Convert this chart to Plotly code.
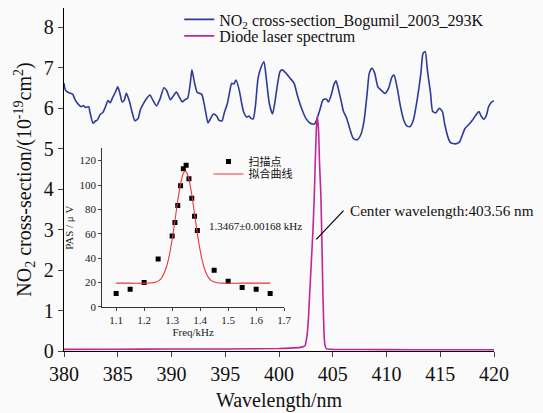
import plotly.graph_objects as go

# ---- Main panel: NO2 cross-section (Bogumil 2003, 293K), units 1e-19 cm^2
no2_wl = [380.0, 380.1, 380.26, 380.58, 380.8, 381.04, 381.3, 381.6, 381.8, 382.0, 382.3, 382.4,
          382.7, 382.9, 383.1, 383.4, 383.6, 383.8, 384.1, 384.3, 384.5, 384.8, 385.0, 385.2,
          385.4, 385.6, 385.8, 386.1, 386.3, 386.6, 386.9, 387.1, 387.4, 387.7, 388.0, 388.25,
          388.6, 388.9, 389.3, 389.55, 389.9, 390.15, 390.45, 390.7, 391.0, 391.3, 391.5, 391.75,
          391.9, 392.15, 392.4, 392.8, 393.0, 393.2, 393.4, 393.6, 393.9, 394.2, 394.4, 394.7,
          394.9, 395.2, 395.4, 395.6, 395.8, 396.0, 396.3, 396.5, 396.7, 397.0, 397.2, 397.4,
          397.6, 397.8, 398.05, 398.3, 398.6, 398.8, 399.1, 399.4, 399.6, 399.9, 400.1, 400.3,
          400.65, 401.05, 401.4, 401.7, 402.1, 402.5, 402.9, 403.3, 403.5, 403.8, 404.1, 404.4,
          404.6, 404.9, 405.1, 405.3, 405.5, 405.8, 406.0, 406.3, 406.6, 406.9, 407.25, 407.6,
          407.9, 408.2, 408.4, 408.65, 408.9, 409.2, 409.5, 409.85, 410.2, 410.5, 410.7, 411.0,
          411.3, 411.6, 411.9, 412.2, 412.5, 412.85, 413.2, 413.4, 413.6, 413.8, 414.1, 414.3,
          414.6, 414.9, 415.2, 415.4, 415.7, 415.95, 416.4, 416.8, 417.0, 417.3, 417.7, 418.0,
          418.3, 418.6, 418.8, 419.05, 419.3, 419.5, 419.8, 420.0]
no2_xs = [6.62, 6.47, 6.41, 6.37, 6.35, 6.21, 6.11, 6.04, 6.07, 6.02, 6.04, 5.92,
          5.63, 5.68, 5.71, 5.86, 5.89, 6.00, 6.19, 6.14, 6.25, 6.41, 6.53, 6.37,
          6.16, 6.20, 6.37, 6.16, 5.94, 5.69, 5.75, 5.96, 6.12, 6.25, 6.33, 6.21,
          6.06, 6.21, 6.51, 6.44, 6.21, 6.30, 6.40, 6.29, 6.16, 6.22, 6.25, 6.62,
          6.95, 6.62, 6.39, 6.35, 6.16, 5.88, 5.64, 5.73, 5.86, 5.81, 5.71, 5.69,
          5.88, 6.12, 6.39, 6.62, 6.60, 6.70, 6.45, 6.16, 5.92, 5.78, 5.81, 5.75,
          5.74, 6.04, 6.74, 6.99, 7.15, 6.78, 6.12, 5.86, 6.12, 6.66, 6.91, 6.95,
          6.87, 6.74, 6.62, 6.33, 6.00, 5.75, 5.63, 5.61, 5.71, 5.96, 6.21, 6.23,
          6.16, 6.37, 6.58, 6.68, 6.50, 6.16, 5.92, 5.75, 5.48, 5.26, 5.22, 5.34,
          5.67, 6.37, 6.87, 6.99, 6.87, 6.53, 6.45, 6.37, 6.50, 6.77, 6.82, 6.50,
          6.04, 5.71, 5.56, 5.55, 5.71, 6.21, 6.87, 7.36, 7.40, 6.95, 6.37, 5.92,
          5.89, 6.00, 5.92, 5.63, 5.30, 5.15, 5.12, 5.17, 5.30, 5.50, 5.61, 5.71,
          5.83, 5.92, 5.81, 5.73, 5.83, 6.04, 6.16, 6.18]

# ---- Main panel: diode laser spectrum
laser_wl = [380.0, 385.0, 390.0, 395.0, 400.0, 401.0, 402.0, 402.3, 402.44, 402.55, 402.66,
            402.75, 402.84, 403.0, 403.16, 403.28, 403.37, 403.47, 403.56, 403.68, 403.77,
            403.9, 404.0, 404.09, 404.2, 404.3, 404.4, 405.0, 410.0, 415.0, 420.0]
laser_int = [0.04, 0.045, 0.05, 0.05, 0.06, 0.07, 0.09, 0.11, 0.14, 0.28, 0.51,
             0.85, 1.34, 2.16, 2.99, 3.81, 4.64, 5.46, 5.80, 5.46, 4.64,
             3.81, 2.57, 1.34, 0.35, 0.12, 0.06, 0.04, 0.035, 0.03, 0.03]

# ---- Inset: scan points and fitted curve
scan_freq = [1.10, 1.15, 1.20, 1.25, 1.30, 1.31, 1.32, 1.33, 1.34, 1.35,
             1.36, 1.37, 1.38, 1.39, 1.45, 1.50, 1.55, 1.60, 1.65]
scan_pas = [11.0, 14.6, 20.0, 39.3, 58.2, 69.2, 83.2, 99.4, 113.4, 116.1,
            105.2, 89.2, 74.4, 62.6, 30.2, 21.1, 15.9, 14.6, 11.0]

fit_freq = [1.10, 1.15, 1.20, 1.22, 1.24, 1.26, 1.28, 1.29, 1.30, 1.31, 1.32, 1.33,
            1.34, 1.3467, 1.35, 1.36, 1.37, 1.38, 1.39, 1.40, 1.41, 1.42, 1.43,
            1.44, 1.46, 1.48, 1.55, 1.65]
fit_pas = [19.5, 19.5, 19.5, 19.6, 20.2, 23.1, 33.0, 42.4, 55.3, 70.8, 87.1, 101.0,
           109.7, 111.5, 111.0, 104.7, 92.2, 76.4, 60.4, 46.4, 35.8, 28.5, 24.1,
           21.6, 19.9, 19.5, 19.5, 19.5]

x_ticks = [380, 385, 390, 395, 400, 405, 410, 415, 420]
y_ticks = [0, 1, 2, 3, 4, 5, 6, 7, 8]
inset_x_ticks = [1.1, 1.2, 1.3, 1.4, 1.5, 1.6, 1.7]
inset_y_ticks = [0, 20, 40, 60, 80, 100, 120]

SERIF = "Liberation Serif, Times New Roman, serif"
CJK = "Noto Sans CJK SC, Liberation Serif, serif"
BG = "#fafafa"
TXT = "#111"

fig = go.Figure()
fig.add_trace(go.Scatter(
    x=no2_wl, y=no2_xs, mode="lines",
    name="NO<sub>2</sub> cross-section_Bogumil_2003_293K",
    line=dict(color="#2e3a98", width=1.6, shape="spline", smoothing=0.6),
    legend="legend"))
fig.add_trace(go.Scatter(
    x=laser_wl, y=laser_int, mode="lines", name="Diode laser spectrum",
    line=dict(color="#c0279a", width=1.6, shape="spline", smoothing=0.3),
    legend="legend4"))

fig.add_trace(go.Scatter(
    x=scan_freq, y=scan_pas, mode="markers", name="扫描点",
    marker=dict(symbol="square", size=5, color="black"),
    xaxis="x2", yaxis="y2", legend="legend2"))
fig.add_trace(go.Scatter(
    x=fit_freq, y=fit_pas, mode="lines", name="拟合曲线",
    line=dict(color="#e8363a", width=1.1, shape="spline", smoothing=0.8),
    xaxis="x2", yaxis="y2", legend="legend3"))

# annotation pointer and text
fig.add_shape(type="line", x0=403.47, y0=2.76, x1=406.0, y1=3.47,
              xref="x", yref="y", line=dict(color="black", width=1.2))
fig.add_annotation(x=406.42, y=3.47, xref="x", yref="y", text="Center wavelength:403.56 nm",
                   showarrow=False, xanchor="left", yanchor="middle",
                   font=dict(family=SERIF, size=15.2, color=TXT))
fig.add_annotation(x=1.426, y=66.5, xref="x2", yref="y2", text="1.3467±0.00168 kHz",
                   showarrow=False, xanchor="left", yanchor="middle",
                   font=dict(family=SERIF, size=11, color=TXT))

# the page body adds an 8px offset; the figure is sized to fill the rest of the window
fig.update_layout(
    width=535, height=405,
    margin=dict(l=55.5, r=49, t=0, b=62.3, autoexpand=False),
    paper_bgcolor=BG, plot_bgcolor=BG,
    font=dict(family=SERIF, color=TXT),
    showlegend=True,
    legend=dict(x=0.268, y=1.016, xanchor="left", yanchor="top",
                bgcolor="rgba(0,0,0,0)", font=dict(family=SERIF, size=16, color=TXT),
                tracegroupgap=0),
    legend4=dict(x=0.268, y=0.968, xanchor="left", yanchor="top",
                 bgcolor="rgba(0,0,0,0)", font=dict(family=SERIF, size=16, color=TXT)),
    legend2=dict(x=0.336, y=0.595, xanchor="left", yanchor="top",
                 bgcolor="rgba(0,0,0,0)", font=dict(family=CJK, size=11, color=TXT)),
    legend3=dict(x=0.336, y=0.5585, xanchor="left", yanchor="top",
                 bgcolor="rgba(0,0,0,0)", font=dict(family=CJK, size=11, color=TXT)),
    xaxis=dict(range=[380, 420], tickvals=x_ticks, ticks="outside", ticklen=5, tickwidth=1.3,
               showline=True, linecolor="black", linewidth=1.4, showgrid=False, zeroline=False,
               tickfont=dict(family=SERIF, size=20, color=TXT),
               title=dict(text="Wavelength/nm", font=dict(family=SERIF, size=20, color=TXT),
                          standoff=8)),
    yaxis=dict(range=[0, 8.48], tickvals=y_ticks, ticks="outside", ticklen=5, tickwidth=1.3,
               showline=True, linecolor="black", linewidth=1.4, showgrid=False, zeroline=False,
               tickfont=dict(family=SERIF, size=20, color=TXT),
               title=dict(text="NO<sub>2</sub> cross-section/(10<sup>-19</sup>cm<sup>2</sup>)",
                          font=dict(family=SERIF, size=20, color=TXT), standoff=6)),
    xaxis2=dict(domain=[0.0887, 0.512], anchor="y2", range=[1.05, 1.7], tickvals=inset_x_ticks,
                tickformat=".1f", ticks="outside", ticklen=3, tickwidth=1,
                showline=True, linecolor="#333", linewidth=1, showgrid=False, zeroline=False,
                tickfont=dict(family=SERIF, size=11, color="#222"),
                title=dict(text="Freq/kHz", font=dict(family=SERIF, size=11, color="#222"),
                           standoff=1)),
    yaxis2=dict(domain=[0.1284, 0.5906], anchor="x2", range=[0, 130], tickvals=inset_y_ticks,
                ticks="outside", ticklen=3, tickwidth=1,
                showline=True, linecolor="#333", linewidth=1, showgrid=False, zeroline=False,
                tickfont=dict(family=SERIF, size=11, color="#222"),
                title=dict(text="PAS / μ V", font=dict(family=SERIF, size=11, color="#222"),
                           standoff=3)),
)

fig.write_html("out.html", post_script="document.body.style.background='#fafafa';")
